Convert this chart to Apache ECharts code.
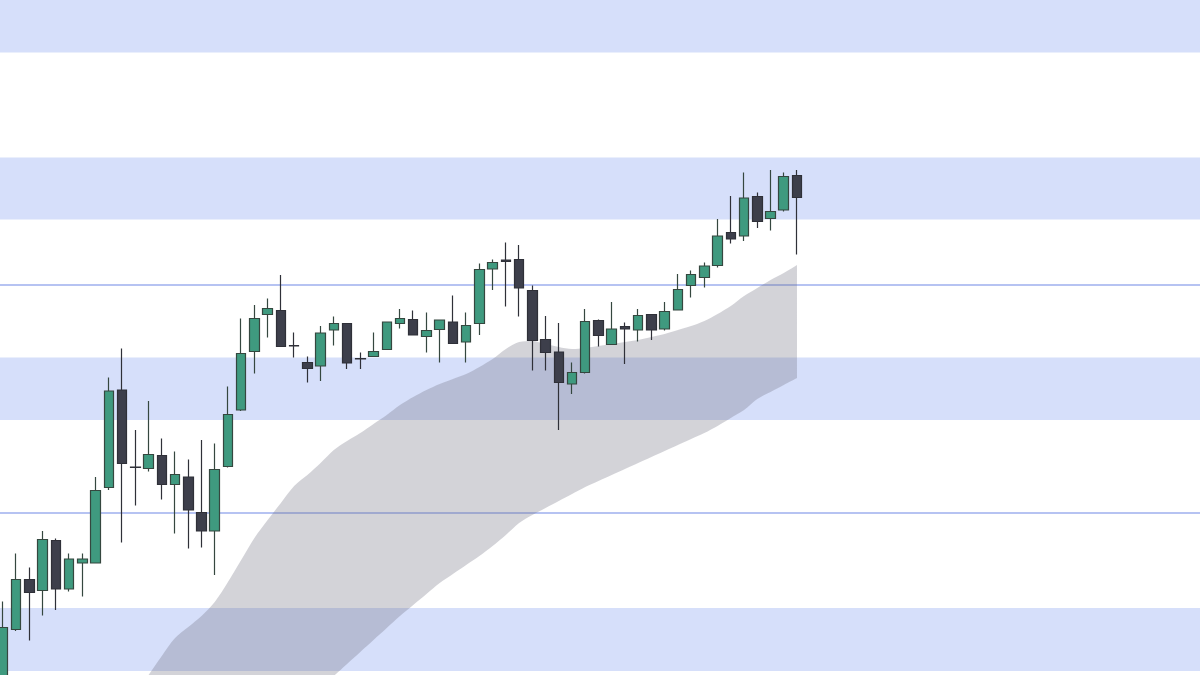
<!DOCTYPE html>
<html>
<head>
<meta charset="utf-8">
<style>
  html, body { margin: 0; padding: 0; background: #ffffff; }
  #chart { width: 1200px; height: 675px; }
</style>
<script src="https://cdn.jsdelivr.net/npm/echarts@6/dist/echarts.min.js"></script>
</head>
<body>
<div id="chart"></div>
<script>
// ---- data ----
const opens  = [17, 29.1, 39.1, 36.9, 46.9, 37.2, 42.4, 42.4, 57.5, 77,
                61.6, 61.3, 63.9, 58.1, 59.6, 52.5, 48.8, 61.7, 73, 84.7,
                92.1, 92.9, 85.9, 82.5, 81.8, 89, 90.3, 83.3, 83.7, 85.1,
                90.3, 91.1, 87.7, 89.1, 90.6, 86.6, 90.3, 101.2, 103, 103.1,
                96.9, 87.1, 84.6, 78.2, 80.5, 90.9, 86.1, 89.7, 89, 92.1,
                89.2, 93, 97.9, 99.5, 101.9, 108.5, 107.8, 115.7, 111.3, 113, 119.9];
const closes = [29.5, 39.1, 36.5, 47.1, 37.2, 43.2, 43.2, 56.9, 76.8, 62.3,
                61.5, 64.1, 58.1, 60.1, 53, 48.8, 61.1, 72.1, 84.3, 91.3,
                93.3, 85.7, 85.8, 81.3, 88.4, 90.3, 82.4, 83.2, 84.7, 90.6,
                91.3, 88, 88.9, 91, 86.3, 89.9, 101.1, 102.5, 102.7, 97.4,
                86.9, 84.5, 78.5, 80.5, 90.7, 87.9, 89.2, 89.2, 91.9, 89,
                92.7, 97.1, 100.1, 101.8, 107.8, 107.2, 115.4, 110.7, 112.7, 119.7, 115.5];
const lows   = [15, 28.8, 26.9, 31.9, 33, 36.7, 35.7, 42.3, 57, 46.5,
                53.9, 60.7, 55.1, 48.3, 45.3, 45.5, 40, 61.5, 72.8, 80.3,
                87.5, 85.7, 83.5, 78.5, 78.8, 85.9, 81.2, 81.2, 83.7, 85,
                89.3, 88, 84.5, 82.5, 86.2, 82.5, 88, 97, 93.7, 91.7,
                80.9, 80.9, 69, 76.2, 80.3, 85.7, 86.1, 82.2, 86.7, 87,
                88.9, 93, 95.5, 97.5, 101.5, 106.3, 106.8, 109.4, 108.9, 112.7, 104.1];
const highs  = [34.7, 44.3, 41.5, 48.8, 47.3, 44.3, 44.3, 59.6, 79.5, 85.3,
                69, 74.8, 67.3, 64.7, 63.1, 67, 66.3, 77.7, 91.3, 94,
                95.3, 100, 88.5, 83.7, 89.8, 91.7, 90.3, 84.5, 88.5, 90.6,
                93.2, 92.9, 92.5, 91, 95.9, 92.5, 102.3, 103.1, 106.5, 106,
                97.9, 91.8, 90.4, 82.5, 93.2, 91.1, 94.6, 90.5, 93.2, 92.1,
                94.6, 100.2, 100.9, 102.5, 111.2, 115.8, 120.5, 116.5, 121, 120.5, 121];

// channel (grey band) upper / lower edges
const bandUpper = [-23, -19, -15, -11, -7, -3, 1, 5, 8.6, 12.2,
                   16, 20, 23.8, 27.4, 29.6, 31.8, 34.6, 38.6, 43, 47.4,
                   51, 54.4, 57.8, 60, 62.4, 65, 66.8, 68.4, 70.2, 72,
                   74, 75.6, 77, 78.2, 79.2, 80.2, 81.6, 83.2, 85.2, 86.6,
                   86.8, 86.2, 85.6, 85.2, 85.4, 85.8, 86.2, 86.6, 87, 87.6,
                   88.2, 89, 89.8, 90.8, 92.2, 93.8, 95.8, 97.4, 99, 100.4, 102];
const bandLower = [-40, -38, -35, -33, -31, -28, -26, -23, -21, -19,
                   -16, -14, -11, -9, -7, -4, -2, 0.6, 3, 5.4,
                   7.8, 10.2, 12.6, 15, 17.4, 19.8, 22.2, 24.6, 27, 29.4,
                   31.8, 34, 36.2, 38.4, 40.2, 42, 43.8, 45.8, 48, 50.4,
                   52, 53.4, 54.8, 56.2, 57.6, 58.8, 60, 61.2, 62.4, 63.6,
                   64.8, 66, 67.2, 68.4, 69.8, 71.4, 73, 75.2, 76.6, 78, 79.4];

// horizontal zones (from, to) and level lines
const zoneFrom = [144.5, 111.1, 71, 20.8];
const zoneTo   = [155, 123.5, 83.5, 33.4];
const levels   = [98.0, 52.4];

const totalSlots = 91;           // category slots across the plot
const categories = [];
for (let i = 0; i < totalSlots; i++) categories.push('D' + (i + 1));

// ---- build options ----
const candleData = opens.map((o, i) => [o, closes[i], lows[i], highs[i]]);
const bandWidth = bandUpper.map((u, i) => +(u - bandLower[i]).toFixed(2));
const zones = zoneFrom.map((f, i) => [{ yAxis: zoneTo[i] }, { yAxis: f }]);
const levelZones = levels.map(v => [{ yAxis: v + 0.2 }, { yAxis: v - 0.2 }]);

const chart = echarts.init(document.getElementById('chart'), null, { renderer: 'canvas' });
chart.setOption({
  animation: false,
  backgroundColor: '#ffffff',
  grid: {
    left: -3.62, top: 0, width: 1204.2, height: 675,
    containLabel: false, outerBoundsMode: 'none'
  },
  xAxis: {
    type: 'category', data: categories, boundaryGap: true, show: false
  },
  yAxis: {
    type: 'value', min: 20, max: 155, show: false, splitLine: { show: false }
  },
  series: [
    {
      name: 'zones', type: 'line', data: [], z: 1, silent: true,
      markArea: {
        silent: true,
        itemStyle: { color: '#d6dffa', opacity: 1 },
        data: zones
      }
    },
    {
      name: 'bandLow', type: 'line', data: bandLower, stack: 'band', stackStrategy: 'all',
      symbol: 'none', smooth: 0.3, z: 2, silent: true,
      lineStyle: { opacity: 0 }
    },
    {
      name: 'bandHigh', type: 'line', data: bandWidth, stack: 'band', stackStrategy: 'all',
      symbol: 'none', smooth: 0.3, z: 2, silent: true,
      lineStyle: { opacity: 0 },
      areaStyle: { color: 'rgba(110,110,125,0.30)', opacity: 1 }
    },
    {
      name: 'levels', type: 'line', data: [], z: 3, silent: true,
      markArea: {
        silent: true,
        itemStyle: { color: '#b6c3f2', opacity: 1 },
        data: levelZones
      }
    },
    {
      name: 'price', type: 'candlestick', data: candleData, z: 4,
      barWidth: 10,
      itemStyle: {
        color: '#3f9a7f', color0: '#3d3f4b',
        borderColor: '#35473f', borderColor0: '#2f3038',
        borderWidth: 1.2
      }
    }
  ]
});
</script>
</body>
</html>
